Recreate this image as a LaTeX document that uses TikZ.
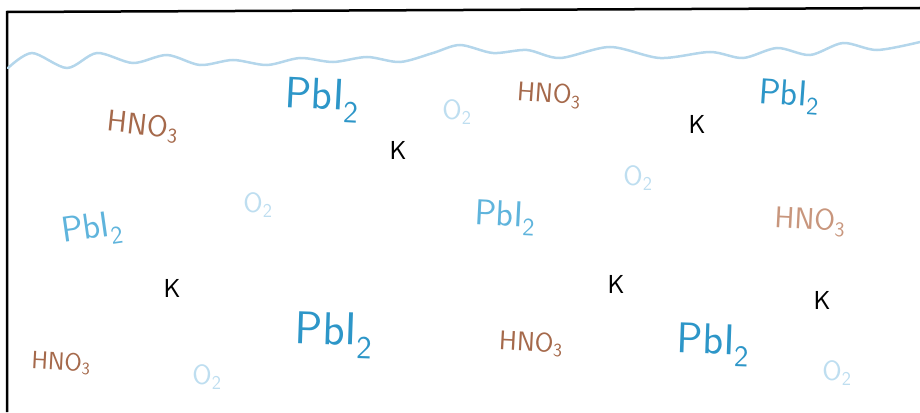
\documentclass[tikz,border=0pt]{standalone}
\usepackage{tikz}
\usetikzlibrary{positioning}

\definecolor{pbblue}{RGB}{45,150,200}
\definecolor{pblight}{RGB}{95,180,220}
\definecolor{hnbrown}{RGB}{165,105,75}
\definecolor{hnlight}{RGB}{200,150,125}
\definecolor{oxyblue}{RGB}{190,222,240}
\definecolor{waveblue}{RGB}{180,214,235}

\tikzset{
    pbi/.style={text=pbblue, font=\sffamily\fontsize{40}{42}\selectfont, inner sep=0pt},
    hno/.style={text=hnbrown, font=\sffamily\fontsize{28}{30}\selectfont, inner sep=0pt},
    kion/.style={text=black, font=\sffamily\fontsize{26}{28}\selectfont, inner sep=0pt},
    oxy/.style={text=oxyblue, font=\sffamily\fontsize{28}{30}\selectfont, inner sep=0pt},
}

\begin{document}
\begin{tikzpicture}[x=1pt, y=-1pt]

    \useasboundingbox (0,0) rectangle (920,412);

    % Beaker walls
    \draw[line width=2.5pt] (7,412) -- (7,12) -- (920,8);

    % Liquid surface
    \draw[waveblue, line width=2.5pt, line cap=round] plot[smooth] coordinates {
        (8,68) (32,53) (67,68) (97,53) (133,63) (167,55) (200,65) (233,60)
        (267,65) (300,58) (333,62) (367,57) (400,62) (433,53) (460,45)
        (493,53) (527,50) (560,58) (610,47) (660,58) (710,52) (743,58)
        (777,48) (810,55) (843,43) (877,50) (920,42)};

    % Lead iodide
    \foreach \n/\x/\y/\r/\s/\c in {a/322/100/-3/44/pbblue, b/789/97/-4/36/pbblue,
        c/92/230/8/36/pblight, d/505/218/-3/36/pblight, e/334/335/-2/46/pbblue,
        f/713/345/-2/43/pbblue}{
        \node[pbi, rotate=\r, text=\c, font=\sffamily\fontsize{\s}{\s}\selectfont]
            (pb\n) at (\x,\y) {PbI\textsubscript{2}};
    }

    % Nitric acid
    \foreach \n/\x/\y/\r/\s/\c in {a/143/127/-6/30/hnbrown, b/549/95/-4/27/hnbrown,
        c/810/222/-3/30/hnlight, d/61/363/-3/25/hnbrown, e/531/344/-3/27/hnbrown}{
        \node[hno, rotate=\r, text=\c, font=\sffamily\fontsize{\s}{\s}\selectfont]
            (hn\n) at (\x,\y) {HNO\textsubscript{3}};
    }

    % Potassium
    \foreach \n/\x/\y in {a/398/150, b/697/124, c/172/288, d/616/284, e/822/300}{
        \node[kion] (k\n) at (\x,\y) {K};
    }

    % Oxygen
    \foreach \n/\x/\y in {a/457/112, b/638/178, c/258/205, d/207/377, e/837/373}{
        \node[oxy] (ox\n) at (\x,\y) {O\textsubscript{2}};
    }

\end{tikzpicture}
\end{document}
